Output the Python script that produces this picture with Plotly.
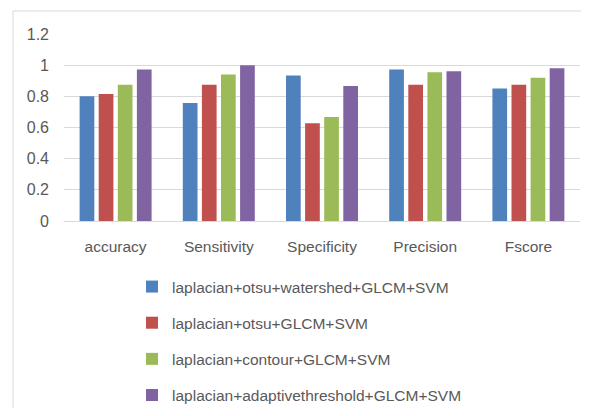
import plotly.graph_objects as go

categories = ["accuracy", "Sensitivity", "Specificity", "Precision", "Fscore"]
series_names = [
    "laplacian+otsu+watershed+GLCM+SVM",
    "laplacian+otsu+GLCM+SVM",
    "laplacian+contour+GLCM+SVM",
    "laplacian+adaptivethreshold+GLCM+SVM",
]
s1 = [0.80, 0.757, 0.934, 0.972, 0.85]
s2 = [0.815, 0.875, 0.628, 0.875, 0.875]
s3 = [0.875, 0.94, 0.667, 0.955, 0.92]
s4 = [0.972, 1.0, 0.867, 0.961, 0.98]
y_ticks = [0, 0.2, 0.4, 0.6, 0.8, 1, 1.2]
y_tick_labels = ["0", "0.2", "0.4", "0.6", "0.8", "1", "1.2"]

colors = ["#4F81BD", "#C0504D", "#9BBB59", "#8064A2"]
font_family = "Liberation Sans, Arial, sans-serif"

PL, PT, PW, PH = 64, 34, 516, 187  # plot area in window pixels (for frame lines)

fig = go.Figure()
for i, (name, vals) in enumerate(zip(series_names, [s1, s2, s3, s4])):
    fig.add_trace(go.Bar(
        x=categories, y=vals, name=name,
        marker=dict(color=colors[i], line=dict(width=0)),
        legendgroup=f"g{i}",
    ))

frame_left = (13 - PL) / PW
frame_top = (PT + PH - 11) / PH
frame_bottom = (PT + PH - 440) / PH
frame_right = (620 - PL) / PW

fig.update_layout(
    width=573, height=400,
    barmode="group", bargap=0.26, bargroupgap=0.23,
    paper_bgcolor="white", plot_bgcolor="white",
    margin=dict(l=56, r=1, t=26, b=187, autoexpand=False),
    font=dict(family=font_family, color="#595959", size=14),
    showlegend=True,
    legend=dict(
        orientation="v", x=0.1318, y=-0.262, xanchor="left", yanchor="top",
        font=dict(size=15.5, color="#595959"), tracegroupgap=13,
        itemwidth=30, bgcolor="rgba(0,0,0,0)",
    ),
    xaxis=dict(
        showgrid=False, showline=True, linecolor="#d9d9d9", linewidth=1,
        ticks="", tickfont=dict(size=15.5, color="#595959"), ticklabelstandoff=11,
    ),
    yaxis=dict(
        range=[0, 1.2], tickvals=y_ticks, ticktext=y_tick_labels,
        showgrid=True, gridcolor="#d9d9d9", gridwidth=1,
        zeroline=False, showline=False, ticks="",
        tickfont=dict(size=16, color="#595959"), ticklabelstandoff=14,
    ),
    shapes=[
        dict(type="line", xref="paper", yref="paper",
             x0=frame_left, x1=frame_right, y0=frame_top, y1=frame_top,
             line=dict(color="#d9d9d9", width=1), layer="below"),
        dict(type="line", xref="paper", yref="paper",
             x0=frame_left, x1=frame_left, y0=frame_bottom, y1=frame_top,
             line=dict(color="#d9d9d9", width=1), layer="below"),
    ],
)

fig.write_html("out.html")
